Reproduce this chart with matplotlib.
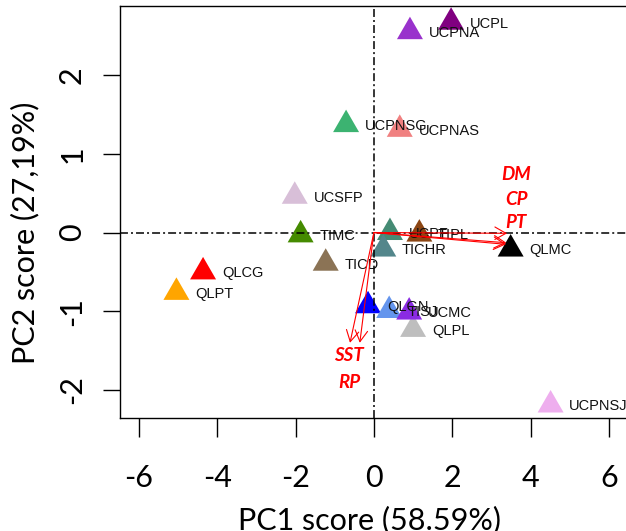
import matplotlib
matplotlib.use("Agg")
import matplotlib.pyplot as plt
from matplotlib.path import Path

# ---- data ----
names = ["UCPL", "UCPNA", "UCPNSG", "UCPNAS", "UCSFP", "TIMC", "TICD", "UCPF", "TICHR",
         "TIPL", "QLMC", "QLCG", "QLPT", "QLGN", "TISJ", "QLPL", "UCMC", "UCPNSJ"]
pc1 = [1.97, 0.92, -0.71, 0.66, -2.02, -1.87, -1.23, 0.41, 0.24,
       1.16, 3.49, -4.36, -5.04, -0.15, 0.39, 1.00, 0.90, 4.51]
pc2 = [2.67, 2.55, 1.37, 1.31, 0.46, -0.03, -0.39, 0.00, -0.21,
       -0.02, -0.21, -0.50, -0.76, -0.93, -0.99, -1.23, -1.01, -2.19]
colors = ["#800080", "#9932CC", "#3CB371", "#F08080", "#D8BFD8", "#458B00", "#8B7355", "#458B74", "#53868B",
          "#8B4513", "#000000", "#FF0000", "#FFA500", "#0000FF", "#6495ED", "#BEBEBE", "#8A2BE2", "#EEAEEE"]

var_names = ["DM", "CP", "PT", "SST", "RP"]
load_x = [3.37, 3.38, 3.40, -0.61, -0.36]
load_y = [-0.15, -0.13, -0.01, -1.40, -1.40]
var_label_x = [3.63, 3.63, 3.63, -0.65, -0.63]
var_label_y = [0.74, 0.42, 0.13, -1.56, -1.90]

xticks = [-6, -4, -2, 0, 2, 4, 6]
yticks = [-2, -1, 0, 1, 2]
xlabel = "PC1 score (58.59%)"
ylabel = "PC2 score (27,19%)"

# ---- figure ----
W, H = 626, 531
fig = plt.figure(figsize=(W / 100, H / 100), dpi=100)
left, right, top, bottom = 120, 627.8, 6, 418
ax = fig.add_axes([left / W, 1 - bottom / H, (right - left) / W, (bottom - top) / H])
ax.set_xlim(-6.48, 6.48)
ax.set_ylim(-2.355, 2.876)

tri = Path([(0, 1), (-0.866, -0.5), (0.866, -0.5), (0, 1)],
           [Path.MOVETO, Path.LINETO, Path.LINETO, Path.CLOSEPOLY])
ax.scatter(pc1, pc2, s=21.6 ** 2, marker=tri, c=colors, linewidths=0, zorder=2)

for n, x, y in zip(names, pc1, pc2):
    ax.annotate(n, (x, y), xytext=(13.5, -1), textcoords="offset points",
                ha="left", va="center", fontsize=10.5, family="Liberation Sans",
                color="#111111", zorder=3, annotation_clip=False, clip_on=True)

dash = (0, (5.2, 2.0, 1.3, 2.0))
ax.axhline(0, color="black", lw=1.1, linestyle=dash, zorder=4)
ax.axvline(0, color="black", lw=1.1, linestyle=dash, zorder=4)

for vx, vy in zip(load_x, load_y):
    ax.annotate("", xy=(vx, vy), xytext=(0, 0),
                arrowprops=dict(arrowstyle="->,head_length=0.8,head_width=0.45",
                                color="red", lw=0.8, shrinkA=0, shrinkB=0),
                zorder=5)
for n, x, y in zip(var_names, var_label_x, var_label_y):
    ax.text(x, y, n, color="red", fontsize=13.5, family="Lato", fontweight="bold",
            fontstyle="italic", ha="center", va="center", zorder=6)

ax.set_xticks(xticks)
ax.set_yticks(yticks)
ax.set_xticklabels([str(t) for t in xticks], family="Lato", fontsize=22)
ax.set_yticklabels([str(t) for t in yticks], family="Lato", fontsize=22,
                   rotation=90, ha="center", va="center")
ax.tick_params(axis="x", direction="out", length=14, width=1.0, pad=19)
ax.tick_params(axis="y", direction="out", length=12.5, width=1.0, pad=22)
for sp in ax.spines.values():
    sp.set_linewidth(1.0)

ax.set_xlabel(xlabel, family="Lato", fontsize=22)
ax.set_ylabel(ylabel, family="Lato", fontsize=22)
ax.xaxis.set_label_coords(0.492, -0.213)
ax.yaxis.set_label_coords(-0.158, 0.45)

fig.savefig("out.png", dpi=100)
